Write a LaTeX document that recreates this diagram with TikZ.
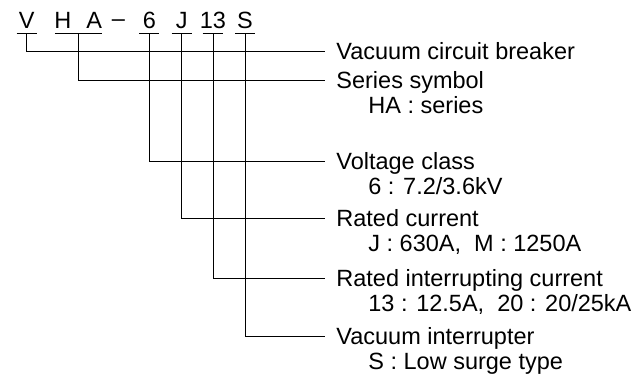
\documentclass[tikz,border=0pt]{standalone}
\usepackage{fontspec}
\setmainfont{Liberation Sans}
\usetikzlibrary{positioning}
\begin{document}
\begin{tikzpicture}[x=1pt,y=-1pt,line width=0.8pt,
  code/.style={anchor=base,inner sep=0pt,font=\fontsize{23.5}{25}\selectfont},
  lbl/.style={anchor=west,inner xsep=11pt,inner ysep=0pt,text height=16pt,text depth=0pt,font=\fontsize{23.5}{25}\selectfont},
  sub/.style={anchor=base west,inner sep=0pt,font=\fontsize{23.5}{25}\selectfont}]
\useasboundingbox (0,0) rectangle (633,378);
% model code
\node[code](cv) at (26.7,28.3){V};
\node[code](cha) at (78.3,28.3){H\hspace{15pt}A};
\node[code](dash) at (118.5,28.3){\raisebox{1.5pt}{–}};
\node[code](c6) at (149.3,28.3){6};
\node[code](cj) at (181.7,28.3){J};
\node[code](c13) at (213,28.3){13};
\node[code](cs) at (245,28.3){S};
\foreach \n/\w in {cv/10,cha/23.4,c6/10,cj/10,c13/10.3,cs/10}{
  \coordinate (\n-u) at ([yshift=-5pt]\n.base);
  \draw ([xshift=-\w pt]\n-u)--([xshift=\w pt]\n-u);
}
% meanings
\node[lbl](vcb) at (325,51.7){Vacuum circuit breaker};
\node[lbl](ser) at (325,80.7){Series symbol};
\node[sub](sersub) at ([xshift=43pt,yshift=-25pt]ser.base west){HA : series};
\node[lbl](volt) at (325,161){Voltage class};
\node[sub](voltsub) at ([xshift=43pt,yshift=-25pt]volt.base west){6 : 7.2/3.6kV};
\node[lbl](cur) at (325,218.3){Rated current};
\node[sub](cursub) at ([xshift=43pt,yshift=-25pt]cur.base west){J : 630A,\ \ M : 1250A};
\node[lbl](intr) at (325,278.3){Rated interrupting current};
\node[sub](intrsub) at ([xshift=43pt,yshift=-25pt]intr.base west){13 : 12.5A,\ \ 20 : 20/25kA};
\node[lbl](vi) at (325,336.5){Vacuum interrupter};
\node[sub](visub) at ([xshift=43pt,yshift=-25pt]vi.base west){S : Low surge type};
% leaders
\draw (cv-u) |- (vcb.west);
\draw (cha-u) |- (ser.west);
\draw (c6-u) |- (volt.west);
\draw (cj-u) |- (cur.west);
\draw (c13-u) |- (intr.west);
\draw (cs-u) |- (vi.west);
\end{tikzpicture}
\end{document}
